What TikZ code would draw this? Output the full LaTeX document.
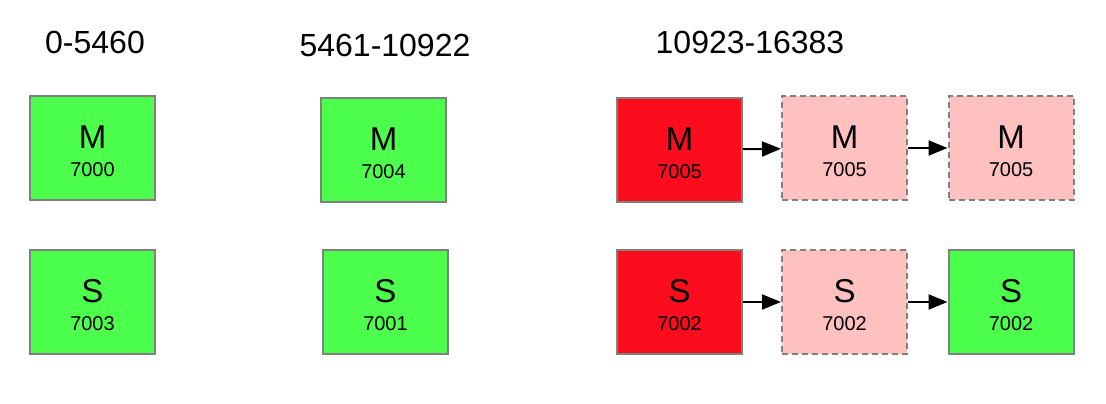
\documentclass[tikz,border=0pt]{standalone}
\usepackage{fontspec}
\setmainfont{Liberation Sans}
\usepackage{xcolor}
\usetikzlibrary{arrows.meta}

\definecolor{okgreen}{RGB}{77,255,77}
\definecolor{downred}{RGB}{252,13,30}
\definecolor{ghostpink}{RGB}{255,192,192}
\definecolor{edgegray}{RGB}{128,128,128}

\newcommand{\slot}[2]{{\fontsize{33}{33}\selectfont\rule{0pt}{29pt}#1}\\[4pt]{\fontsize{20}{24}\selectfont #2}}

\begin{document}
\begin{tikzpicture}[x=1pt, y=-1pt,
    box/.style={draw=edgegray, line width=2pt, minimum width=125pt, minimum height=104pt,
        inner sep=0pt, align=center, font=\fontsize{20}{24}\selectfont},
    alive/.style={box, fill=okgreen},
    dead/.style={box, fill=downred},
    ghost/.style={box, fill=ghostpink, dash pattern=on 6pt off 4pt},
    slotrange/.style={font=\fontsize{32}{32}\selectfont},
    link/.style={-{Triangle[length=19pt, width=15pt]}, line width=2pt}]
    \useasboundingbox (0, 0) rectangle (1106, 404);

    % slot ranges
    \node[slotrange] at (95, 42) (r1) {0-5460};
    \node[slotrange] at (385, 45) (r2) {5461-10922};
    \node[slotrange] at (750, 42) (r3) {10923-16383};

    % first range
    \node[alive] at (92.5, 148) (M1) {\slot{M}{7000}};
    \node[alive] at (92.5, 302) (S1) {\slot{S}{7003}};

    % second range
    \node[alive] at (383.5, 150) (M2) {\slot{M}{7004}};
    \node[alive] at (385.5, 302) (S2) {\slot{S}{7001}};

    % third range: failover
    \node[dead] at (679.5, 150) (M3) {\slot{M}{7005}};
    \node[ghost] at (844.5, 148) (M3b) {\slot{M}{7005}};
    \node[ghost] at (1011, 148) (M3c) {\slot{M}{7005}};

    \node[dead] at (679.5, 302) (S3) {\slot{S}{7002}};
    \node[ghost] at (844.5, 302) (S3b) {\slot{S}{7002}};
    \node[alive] at (1011, 302) (S3c) {\slot{S}{7002}};

    \draw[link] (M3) -- (M3b);
    \draw[link] (M3b) -- (M3c);
    \draw[link] (S3) -- (S3b);
    \draw[link] (S3b) -- (S3c);
\end{tikzpicture}
\end{document}
